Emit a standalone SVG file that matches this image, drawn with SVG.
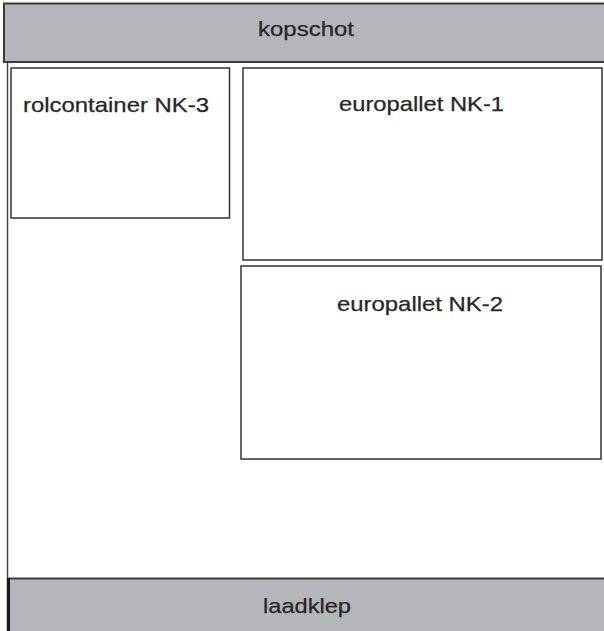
<svg xmlns="http://www.w3.org/2000/svg" width="604" height="631" viewBox="0 0 604 631">
<style>
.bar{fill:#b5b6ba;stroke:#3a3a3a;stroke-width:2}
.box{fill:#fff;stroke:#333;stroke-width:1.5}
.lbl{font-family:"Liberation Sans",Arial,sans-serif;font-size:21px;fill:#262626;stroke:#262626;stroke-width:0.25}
</style>
<rect width="604" height="631" fill="#fff"/>
<g id="vloer">
<line x1="7.5" y1="62" x2="7.5" y2="631" stroke="#444" stroke-width="1.5"/>
</g>
<g id="kopschot">
<rect class="bar" x="4" y="3.5" width="605" height="58.5"/>
<text class="lbl" x="258" y="36" textLength="96" lengthAdjust="spacingAndGlyphs">kopschot</text>
</g>
<g id="laadklep">
<rect class="bar" x="8.5" y="578.5" width="600" height="60"/>
<line x1="8.5" y1="578" x2="8.5" y2="631" stroke="#1a1a1a" stroke-width="3"/>
<text class="lbl" x="263" y="613" textLength="88" lengthAdjust="spacingAndGlyphs">laadklep</text>
</g>
<g id="nk3">
<rect class="box" x="11" y="68" width="218.5" height="150"/>
<text class="lbl" x="23" y="112" textLength="186" lengthAdjust="spacingAndGlyphs">rolcontainer NK-3</text>
</g>
<g id="nk1">
<rect class="box" x="243" y="68" width="359" height="192"/>
<text class="lbl" x="339" y="111" textLength="165" lengthAdjust="spacingAndGlyphs">europallet NK-1</text>
</g>
<g id="nk2">
<rect class="box" x="241" y="266" width="360" height="193"/>
<text class="lbl" x="337" y="311" textLength="166" lengthAdjust="spacingAndGlyphs">europallet NK-2</text>
</g>
<g id="connectors"/>
</svg>
